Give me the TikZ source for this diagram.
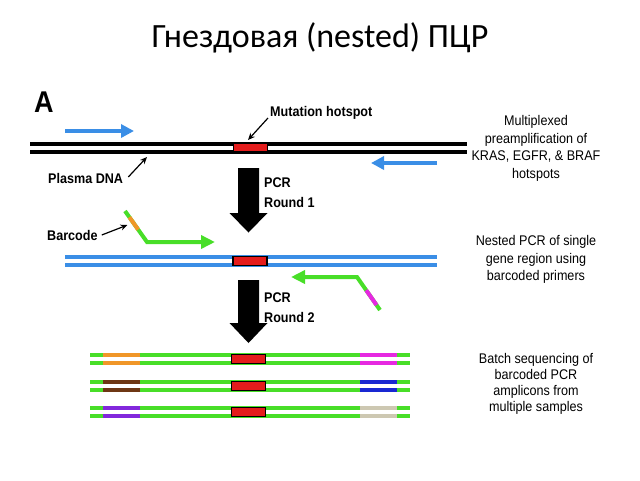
\documentclass[tikz,border=0pt]{standalone}
\usepackage{fontspec}
\setmainfont{Liberation Sans}
\newfontfamily\titlefont{Carlito}
\usetikzlibrary{arrows.meta,calc}
\definecolor{dnablue}{RGB}{58,142,230}
\definecolor{pgreen}{RGB}{72,222,40}
\definecolor{hred}{RGB}{228,28,28}
\definecolor{bcorange}{RGB}{240,150,40}
\definecolor{bcbrown}{RGB}{110,55,20}
\definecolor{bcpurple}{RGB}{130,40,220}
\definecolor{bcmagenta}{RGB}{230,40,225}
\definecolor{bcnavy}{RGB}{25,40,210}
\definecolor{bcbeige}{RGB}{205,200,178}
\begin{document}
\begin{tikzpicture}[x=1pt,y=-1pt,
  strand/.style={line width=4pt},
  hotbox/.style={draw=black,line width=1.2pt,fill=hred,minimum width=34pt,minimum height=9pt,inner sep=0pt},
  lbl/.style={font=\fontsize{14}{16}\selectfont\bfseries, inner sep=0pt, xscale=0.9},
  desc/.style={font=\fontsize{14}{17.5}\selectfont, align=center, inner sep=0pt, xscale=0.9},
  desctight/.style={font=\fontsize{14}{16}\selectfont, align=center, inner sep=0pt, xscale=0.9},
  thinarrow/.style={-{Stealth[length=7pt,width=6pt]}, line width=1.2pt},
  primer/.style={line width=4pt, pgreen, -{Triangle[length=14pt,width=13pt]}},
  blueprimer/.style={line width=4pt, dnablue, -{Triangle[length=13pt,width=13pt]}},
  bigarrow/.style={fill=black}
]
\useasboundingbox (0,0) rectangle (640,480);

% title
\node[font=\titlefont\fontsize{34}{40}\selectfont, anchor=base, inner sep=0pt] (title) at (320,47) {Гнездовая (nested) ПЦР};

% panel letter
\node[font=\fontsize{30}{32}\selectfont\bfseries, anchor=base west, inner sep=0pt, xscale=0.9] (panelA) at (34,112) {A};

% plasma DNA
\draw[strand] (30,143.5) -- (467,143.5);
\draw[strand] (30,151.5) -- (467,151.5);
\node[hotbox] (hot1) at (250.5,147.5) {};

\node[lbl, anchor=west] (mut) at (270,113) {Mutation hotspot};
\coordinate (mutend) at (248,140);
\draw[thinarrow] (mut.west) ++(-2,5) -- (mutend);

\node[lbl, anchor=west] (plasma) at (48,178) {Plasma DNA};
\coordinate (plasmaend) at (147,157);
\draw[thinarrow] (plasma.east) ++(5,-1) -- (plasmaend);

\coordinate (bl1s) at (65,131);
\coordinate (bl1e) at (134,131);
\draw[blueprimer] (bl1s) -- (bl1e);
\coordinate (bl2s) at (437,163);
\coordinate (bl2e) at (371,163);
\draw[blueprimer] (bl2s) -- (bl2e);

\node[desc] (d1) at (536,148.5) {Multiplexed\\preamplification of\\KRAS, EGFR, \& BRAF\\hotspots};

% arrow 1
\fill[bigarrow] (238,168) -- (259,168) -- (259,213) -- (267.5,213) -- (248.5,232.5) -- (229.5,213) -- (238,213) -- cycle;
\node[lbl, anchor=west] (pcr1) at (264,183) {PCR};
\node[lbl, anchor=west] (rnd1) at (264,202) {Round 1};

% nested PCR
\draw[strand, dnablue] (65,257) -- (437,257);
\draw[strand, dnablue] (65,265) -- (437,265);
\node[hotbox] (hot2) at (250,261) {};

\coordinate (p1a) at (125,211);
\coordinate (p1b) at (147,242);
\coordinate (p1c) at (215,242);
\draw[primer] (p1a) -- (p1b) -- (p1c);
\draw[line width=4pt, bcorange] ($(p1a)!0.2!(p1b)$) -- ($(p1a)!0.6!(p1b)$);

\node[lbl, anchor=west] (barcode) at (47,235) {Barcode};
\coordinate (barend) at (127.5,225);
\draw[thinarrow] (barcode.east) ++(4,0) -- (barend);

\coordinate (p2a) at (380,310);
\coordinate (p2b) at (357,277);
\coordinate (p2c) at (291,277);
\draw[primer] (p2a) -- (p2b) -- (p2c);
\draw[line width=4pt, bcmagenta] ($(p2b)!0.4!(p2a)$) -- ($(p2b)!0.85!(p2a)$);

\node[desc] (d2) at (536,259.5) {Nested PCR of single\\gene region using\\barcoded primers};

% arrow 2
\fill[bigarrow] (238,280) -- (259,280) -- (259,323) -- (267.5,323) -- (248.5,343) -- (229.5,323) -- (238,323) -- cycle;
\node[lbl, anchor=west] (pcr2) at (264,298) {PCR};
\node[lbl, anchor=west] (rnd2) at (264,317) {Round 2};

% amplicons
\foreach \yy/\lc/\rc [count=\i] in {355/bcorange/bcmagenta, 382/bcbrown/bcnavy, 408/bcpurple/bcbeige}{
  \draw[strand, pgreen] (90,\yy) -- (410,\yy);
  \draw[strand, pgreen] (90,\yy+8) -- (410,\yy+8);
  \draw[strand, \lc] (103,\yy) -- (140,\yy);
  \draw[strand, \lc] (103,\yy+8) -- (140,\yy+8);
  \draw[strand, \rc] (360,\yy) -- (397,\yy);
  \draw[strand, \rc] (360,\yy+8) -- (397,\yy+8);
  \node[hotbox] (hot3-\i) at (248.5,\yy+4) {};
}

\node[desctight] (d3) at (536,383.5) {Batch sequencing of\\barcoded PCR\\amplicons from\\multiple samples};
\end{tikzpicture}
\end{document}
